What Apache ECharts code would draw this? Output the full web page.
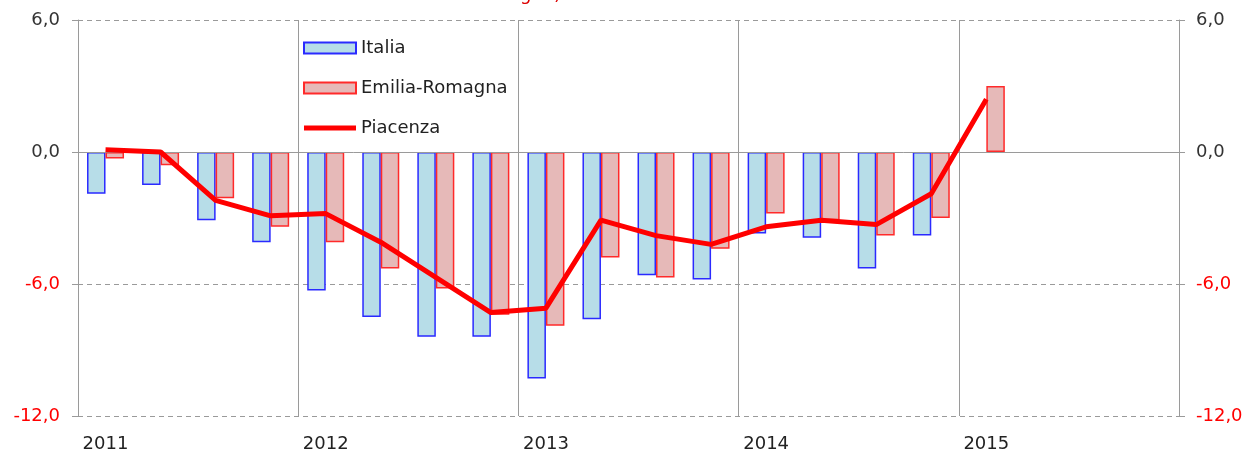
<!DOCTYPE html>
<html>
<head>
<meta charset="utf-8">
<script src="https://cdn.jsdelivr.net/npm/echarts@6/dist/echarts.min.js"></script>
<style>
  html, body { margin: 0; padding: 0; background: #fff; }
  #chart { width: 1246px; height: 453px; }
</style>
</head>
<body>
<div id="chart"></div>
<script>
// trimestri 2011-2015
const quarters = [
  '2011 T1', '2011 T2', '2011 T3', '2011 T4',
  '2012 T1', '2012 T2', '2012 T3', '2012 T4',
  '2013 T1', '2013 T2', '2013 T3', '2013 T4',
  '2014 T1', '2014 T2', '2014 T3', '2014 T4',
  '2015 T1', '2015 T2', '2015 T3', '2015 T4'
];
const italia = [-1.9, -1.5, -3.1, -4.1, -6.3, -7.5, -8.4, -8.4, -10.3, -7.6, -5.6, -5.8, -3.7, -3.9, -5.3, -3.8, null, null, null, null];
const emiliaRomagna = [-0.3, -0.6, -2.1, -3.4, -4.1, -5.3, -6.2, -7.4, -7.9, -4.8, -5.7, -4.4, -2.8, -3.1, -3.8, -3.0, 3.0, null, null, null];
const piacenza = [0.1, 0.0, -2.2, -2.9, -2.8, -4.1, -5.7, -7.3, -7.1, -3.1, -3.8, -4.2, -3.4, -3.1, -3.3, -1.9, 2.4, null, null, null];
const yMin = -12, yMax = 6, yStep = 6;

const font = 'DejaVu Sans';
const gridColor = '#9a9a9a';

function yLabel(v) {
  const txt = v.toFixed(1).replace('.', ',');
  return v < 0 ? '{neg|' + txt + '}' : '{pos|' + txt + '}';
}

function yAxis(position) {
  return {
    type: 'value',
    position: position,
    min: yMin,
    max: yMax,
    interval: yStep,
    axisLine: {show: true, lineStyle: {color: gridColor, width: 1}},
    axisTick: {show: true, length: 6, lineStyle: {color: gridColor}},
    splitLine: {show: position === 'left', lineStyle: {color: gridColor, type: [5, 4], width: 1}},
    axisLabel: {
      margin: position === 'left' ? 18 : 17,
      formatter: yLabel,
      rich: {
        pos: {color: '#333', fontFamily: font, fontSize: 18},
        neg: {color: '#ff0000', fontFamily: font, fontSize: 18}
      }
    }
  };
}

const chart = echarts.init(document.getElementById('chart'), null, {renderer: 'canvas'});
chart.setOption({
  animation: false,
  backgroundColor: '#fff',
  grid: {left: 78, right: 67, top: 20, bottom: 34, containLabel: false},
  graphic: [{
    type: 'text',
    x: 561,
    y: 4,
    style: {
      text: 'Emilia-Romagna)',
      fill: '#dd0000',
      font: '18px "DejaVu Sans"',
      textAlign: 'right',
      textVerticalAlign: 'bottom'
    }
  }],
  legend: {
    orient: 'vertical',
    left: 298,
    top: 34,
    itemWidth: 52,
    itemHeight: 11,
    itemGap: 22,
    textStyle: {fontFamily: font, fontSize: 18, color: '#222'},
    data: [
      {name: 'Italia', icon: 'rect'},
      {name: 'Emilia-Romagna', icon: 'rect'},
      {name: 'Piacenza', icon: 'path://M0,0 L52,0 L52,5 L0,5 Z'}
    ]
  },
  xAxis: {
    type: 'category',
    data: quarters,
    boundaryGap: true,
    axisLine: {show: false, onZero: false},
    axisTick: {show: false},
    splitLine: {show: true, interval: 3, lineStyle: {color: gridColor, width: 1}},
    axisLabel: {
      interval: 3,
      margin: 19,
      fontFamily: font,
      fontSize: 18,
      color: '#222',
      formatter: v => v.split(' ')[0]
    }
  },
  yAxis: [yAxis('left'), yAxis('right')],
  series: [
    {
      name: 'Italia',
      type: 'bar',
      data: italia,
      barWidth: 18.5,
      barGap: '0%',
      itemStyle: {color: '#b7dde8', borderColor: '#2a2aff', borderWidth: 1.5},
      markLine: {
        silent: true,
        symbol: 'none',
        label: {show: false},
        lineStyle: {color: gridColor, type: 'solid', width: 1},
        data: [{yAxis: 0}]
      }
    },
    {
      name: 'Emilia-Romagna',
      type: 'bar',
      data: emiliaRomagna,
      barWidth: 18.5,
      barGap: '0%',
      itemStyle: {color: '#e6b9b8', borderColor: '#ff2a2a', borderWidth: 1.5}
    },
    {
      name: 'Piacenza',
      type: 'line',
      data: piacenza,
      symbol: 'none',
      showSymbol: false,
      lineStyle: {color: '#ff0000', width: 5},
      itemStyle: {color: '#ff0000'},
      z: 5
    }
  ]
});
</script>
</body>
</html>
